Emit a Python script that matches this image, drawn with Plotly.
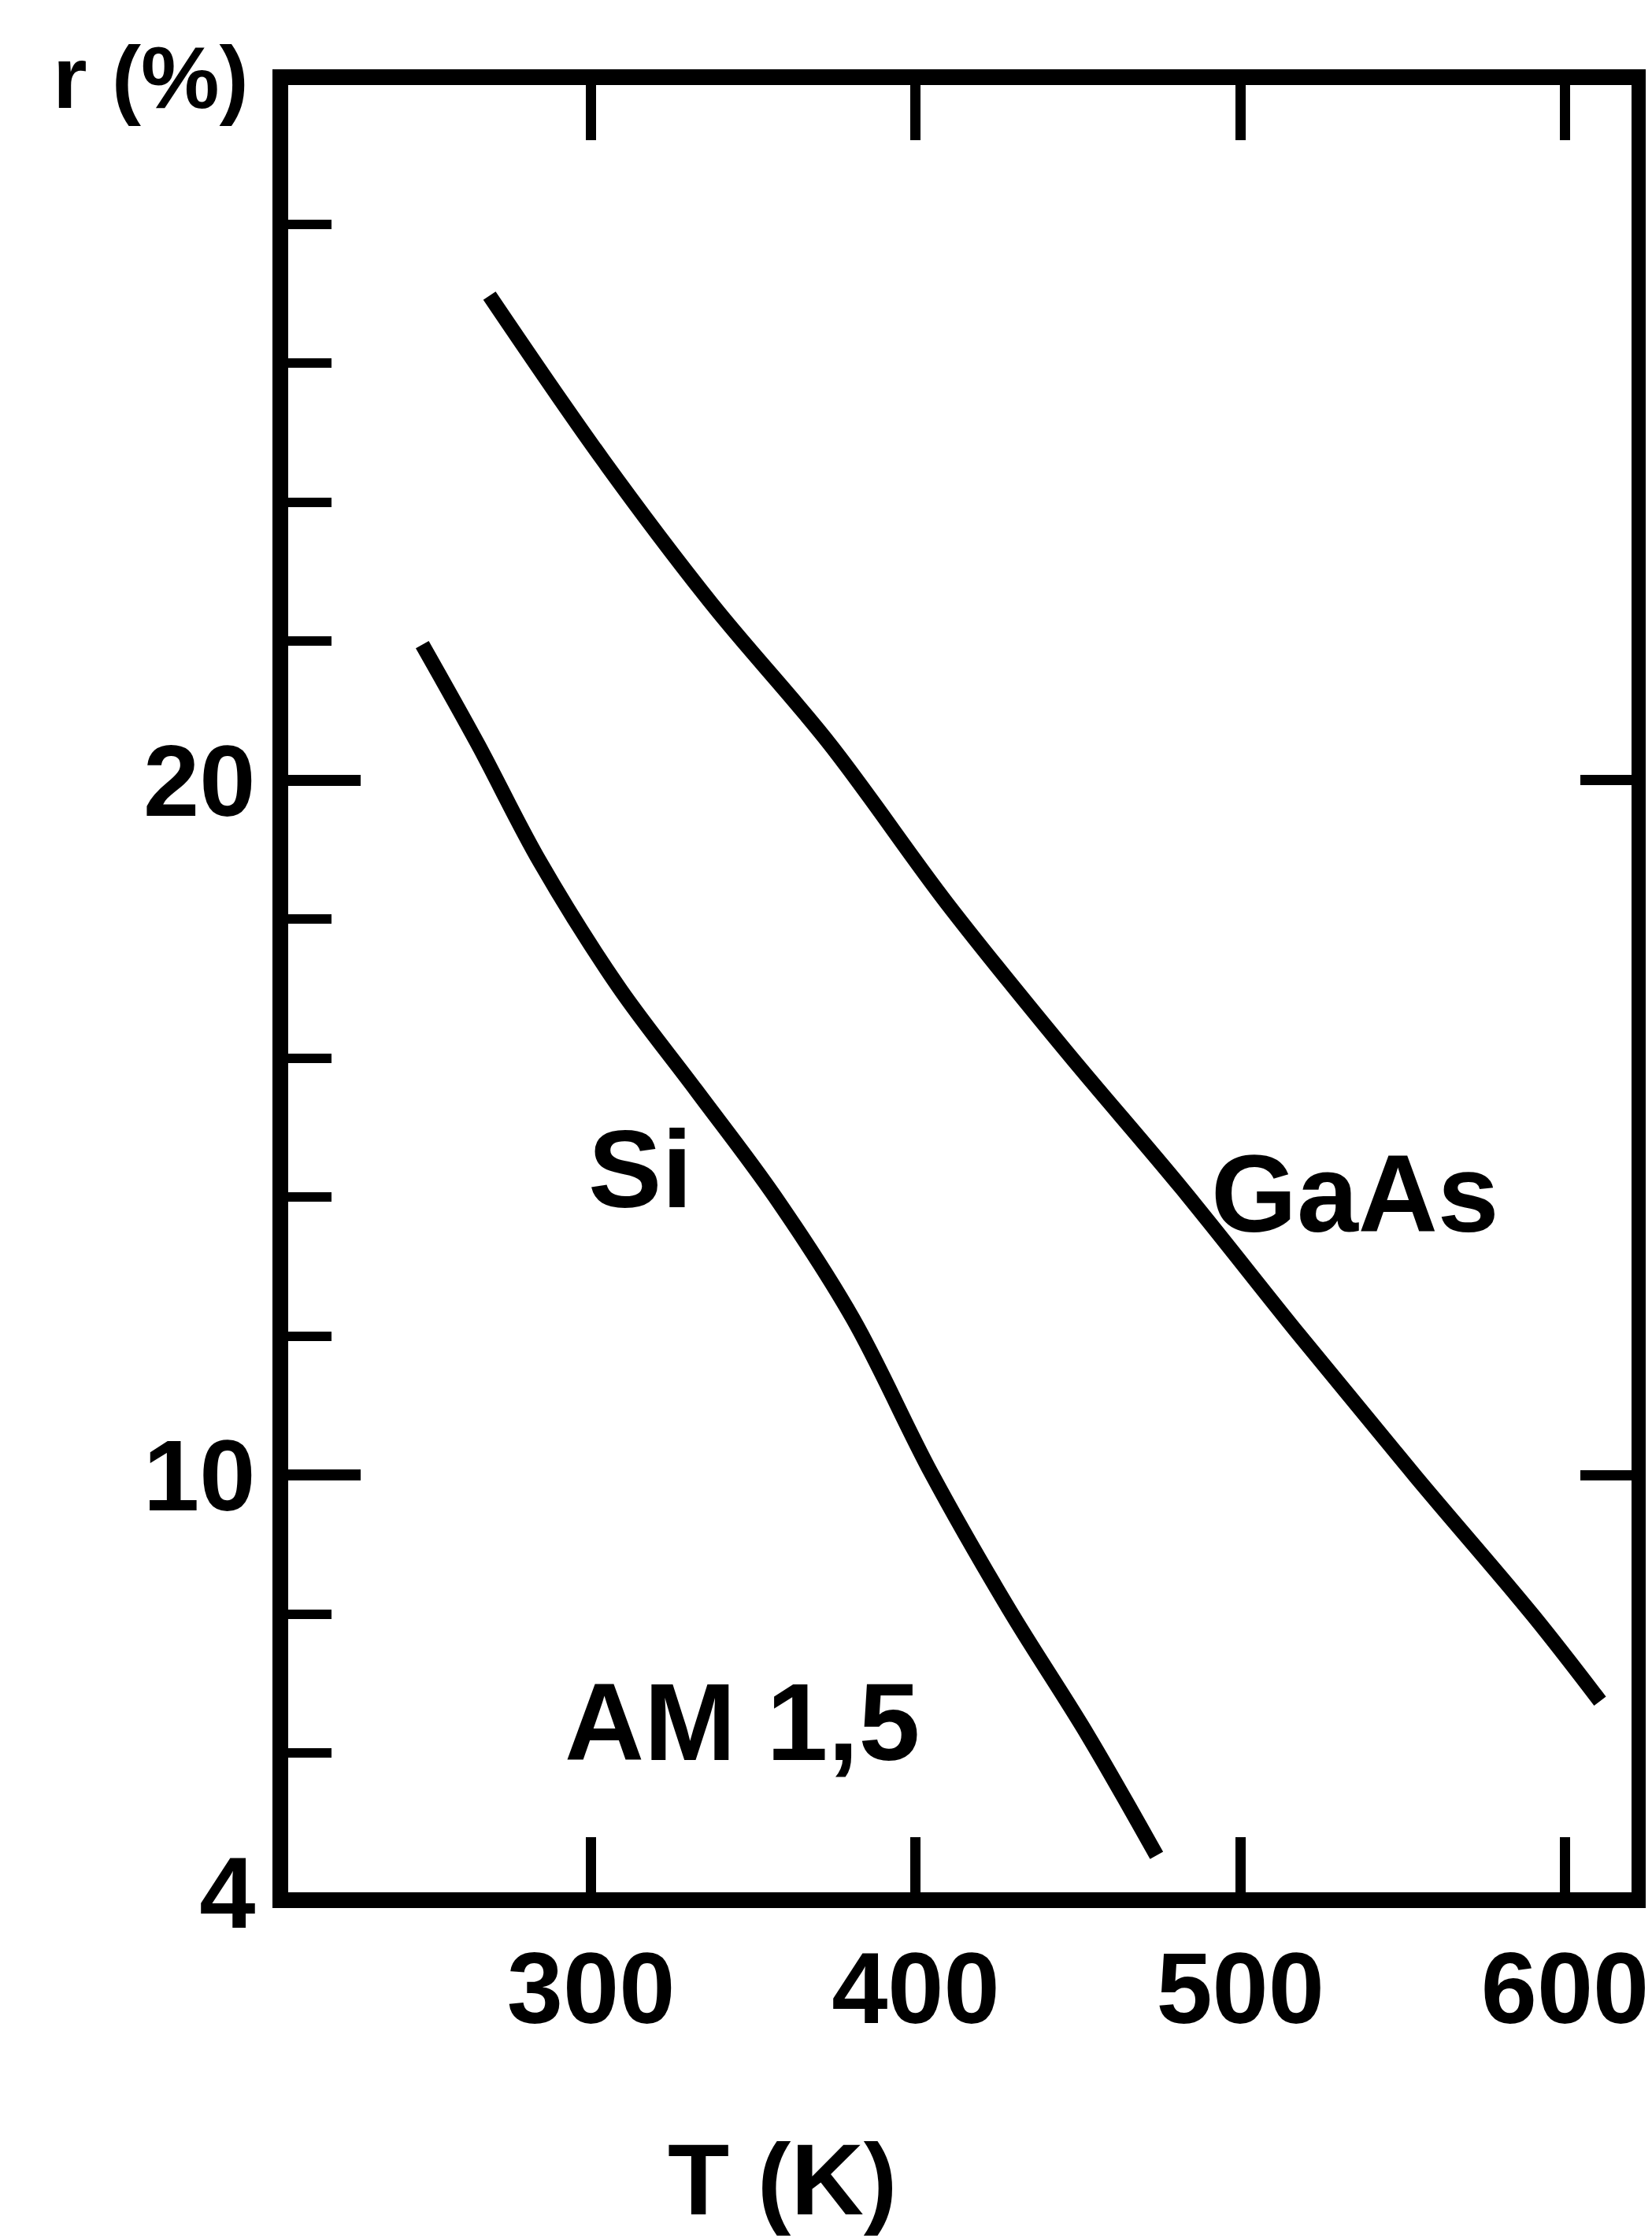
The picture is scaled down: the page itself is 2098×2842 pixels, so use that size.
import plotly.graph_objects as go

# ---- data ----
T_GAAS = [268.7, 303.6, 337.3, 373.5, 409.6, 445.8, 481.9, 518.1, 554.2, 590.4, 610.8]
R_GAAS = [26.97, 24.61, 22.53, 20.52, 18.23, 16.13, 14.13, 12.02, 9.97, 7.97, 6.75]
T_SI = [248.0, 265.1, 284.3, 308.4, 332.5, 356.6, 380.7, 404.8, 428.9, 453.0, 474.2]
R_SI = [21.95, 20.52, 18.82, 17.03, 15.53, 14.01, 12.25, 10.03, 8.06, 6.26, 4.53]

X_TICKS = [300, 400, 500, 600]
Y_TICKS = [4, 10, 20]
Y_MINOR = [6, 8, 12, 14, 16, 18, 22, 24, 26, 28]
Y_RIGHT_TICKS = [10, 20]

X_RANGE = [206.7, 620.5]
Y_RANGE = [4, 30]

FONT = "Liberation Sans"
INK = "black"

fig = go.Figure()
fig.add_trace(go.Scatter(x=T_GAAS, y=R_GAAS, mode="lines", name="GaAs",
                         line=dict(color=INK, width=19, shape="spline", smoothing=1.0),
                         showlegend=False, hoverinfo="skip"))
fig.add_trace(go.Scatter(x=T_SI, y=R_SI, mode="lines", name="Si",
                         line=dict(color=INK, width=19, shape="spline", smoothing=1.0),
                         showlegend=False, hoverinfo="skip"))
# empty trace so the top and right frame axes are drawn
fig.add_trace(go.Scatter(x=[], y=[], xaxis="x2", yaxis="y2", mode="lines",
                         showlegend=False, hoverinfo="skip"))

tickfont = dict(family=FONT, size=128, color=INK, weight="bold")

fig.update_layout(
    width=2098, height=2842, autosize=False,
    margin=dict(l=358, r=23, t=100, b=447),
    paper_bgcolor="white", plot_bgcolor="white",
    xaxis=dict(range=X_RANGE, tickmode="array", tickvals=X_TICKS,
               ticktext=[str(v) for v in X_TICKS], ticks="inside", ticklen=70,
               tickwidth=13, tickcolor=INK, showline=True, linewidth=20, linecolor=INK,
               showgrid=False, zeroline=False, tickfont=tickfont, ticklabelstandoff=-8),
    xaxis2=dict(range=X_RANGE, overlaying="x", side="top", anchor="y2", tickmode="array",
                tickvals=X_TICKS, ticks="inside", ticklen=70, tickwidth=13, tickcolor=INK,
                showticklabels=False, showline=True, linewidth=20, linecolor=INK,
                showgrid=False, zeroline=False),
    yaxis=dict(range=Y_RANGE, tickmode="array", tickvals=Y_TICKS,
               ticktext=[str(v) for v in Y_TICKS], ticks="inside", ticklen=92,
               tickwidth=14, tickcolor=INK, showline=True, linewidth=20, linecolor=INK,
               showgrid=False, zeroline=False, tickfont=tickfont, ticklabelstandoff=-4,
               minor=dict(tickmode="array", tickvals=Y_MINOR, ticks="inside", ticklen=55,
                          tickwidth=12, tickcolor=INK, showgrid=False)),
    yaxis2=dict(range=Y_RANGE, overlaying="y", side="right", anchor="x2", tickmode="array",
                tickvals=Y_RIGHT_TICKS, ticks="inside", ticklen=65, tickwidth=13,
                tickcolor=INK, showticklabels=False, showline=True, linewidth=20,
                linecolor=INK, showgrid=False, zeroline=False),
)

labels = [
    ("Si", 315.2, 14.41, 140),
    ("GaAs", 535.4, 14.05, 140),
    ("AM 1,5", 346.5, 6.45, 140),
]
for txt, xv, yv, fs in labels:
    fig.add_annotation(x=xv, y=yv, xref="x", yref="y", text=txt, showarrow=False,
                       font=dict(family=FONT, size=fs, color=INK, weight="bold"),
                       xanchor="center", yanchor="middle")

fig.add_annotation(x=0.368, y=-0.159, xref="paper", yref="paper", text="T (K)",
                   showarrow=False, xanchor="center", yanchor="middle",
                   font=dict(family=FONT, size=128, color=INK, weight="bold"))
fig.add_annotation(x=-0.1025, y=1.004, xref="paper", yref="paper", text="r (%)",
                   showarrow=False, xanchor="center", yanchor="middle",
                   font=dict(family=FONT, size=112, color=INK, weight="bold"))

fig.write_html("out.html")
